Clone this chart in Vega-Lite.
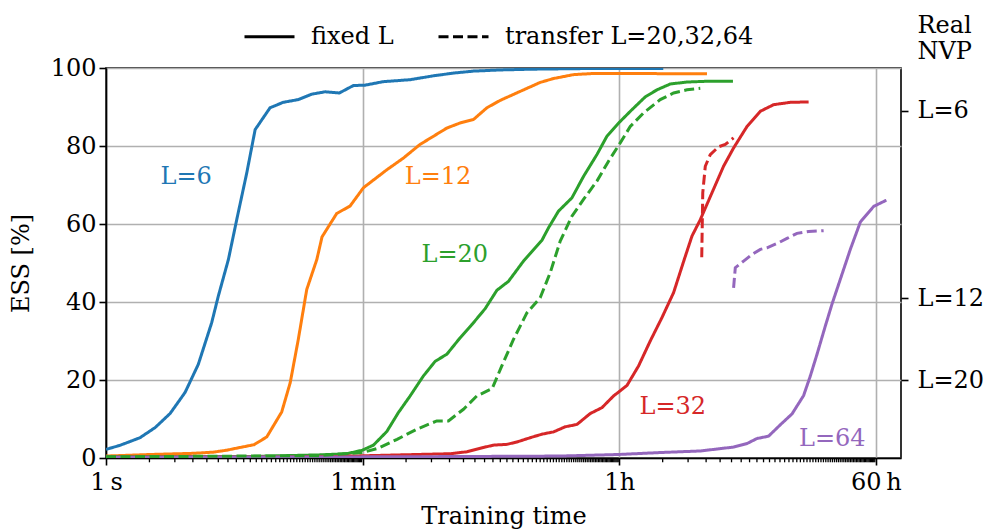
{
  "$schema": "https://vega.github.io/schema/vega-lite/v6.json",
  "width": 795,
  "height": 390,
  "autosize": {"type": "none"},
  "padding": {"left": 106, "top": 68, "right": 83, "bottom": 74},
  "background": "white",
  "datasets": {
    "curves": [
      {"L": "L=6", "kind": "fixed L", "t": 1, "v": 2.2},
      {"L": "L=6", "kind": "fixed L", "t": 1.25, "v": 3.25},
      {"L": "L=6", "kind": "fixed L", "t": 1.72, "v": 5.2},
      {"L": "L=6", "kind": "fixed L", "t": 2.19, "v": 7.8},
      {"L": "L=6", "kind": "fixed L", "t": 2.78, "v": 11.4},
      {"L": "L=6", "kind": "fixed L", "t": 3.53, "v": 16.8},
      {"L": "L=6", "kind": "fixed L", "t": 4.36, "v": 24.0},
      {"L": "L=6", "kind": "fixed L", "t": 5.4, "v": 34.7},
      {"L": "L=6", "kind": "fixed L", "t": 6.0, "v": 41.5},
      {"L": "L=6", "kind": "fixed L", "t": 7.05, "v": 50.9},
      {"L": "L=6", "kind": "fixed L", "t": 8.05, "v": 61.1},
      {"L": "L=6", "kind": "fixed L", "t": 9.45, "v": 73.1},
      {"L": "L=6", "kind": "fixed L", "t": 10.8, "v": 84.2},
      {"L": "L=6", "kind": "fixed L", "t": 13.7, "v": 89.8},
      {"L": "L=6", "kind": "fixed L", "t": 16.9, "v": 91.2},
      {"L": "L=6", "kind": "fixed L", "t": 21.5, "v": 91.9},
      {"L": "L=6", "kind": "fixed L", "t": 26.7, "v": 93.3},
      {"L": "L=6", "kind": "fixed L", "t": 33, "v": 93.9},
      {"L": "L=6", "kind": "fixed L", "t": 41.4, "v": 93.6},
      {"L": "L=6", "kind": "fixed L", "t": 51.8, "v": 95.5},
      {"L": "L=6", "kind": "fixed L", "t": 62.4, "v": 95.6},
      {"L": "L=6", "kind": "fixed L", "t": 83.6, "v": 96.5},
      {"L": "L=6", "kind": "fixed L", "t": 128, "v": 97.0},
      {"L": "L=6", "kind": "fixed L", "t": 186, "v": 98.0},
      {"L": "L=6", "kind": "fixed L", "t": 256, "v": 98.7},
      {"L": "L=6", "kind": "fixed L", "t": 352, "v": 99.2},
      {"L": "L=6", "kind": "fixed L", "t": 539, "v": 99.5},
      {"L": "L=6", "kind": "fixed L", "t": 912, "v": 99.7},
      {"L": "L=6", "kind": "fixed L", "t": 2660, "v": 99.9},
      {"L": "L=6", "kind": "fixed L", "t": 7270, "v": 99.9},

      {"L": "L=12", "kind": "fixed L", "t": 1, "v": 0.5},
      {"L": "L=12", "kind": "fixed L", "t": 2.02, "v": 0.9},
      {"L": "L=12", "kind": "fixed L", "t": 4.03, "v": 1.2},
      {"L": "L=12", "kind": "fixed L", "t": 5.54, "v": 1.5},
      {"L": "L=12", "kind": "fixed L", "t": 6.87, "v": 2.0},
      {"L": "L=12", "kind": "fixed L", "t": 8.49, "v": 2.7},
      {"L": "L=12", "kind": "fixed L", "t": 10.6, "v": 3.4},
      {"L": "L=12", "kind": "fixed L", "t": 13, "v": 5.4},
      {"L": "L=12", "kind": "fixed L", "t": 16.5, "v": 11.8},
      {"L": "L=12", "kind": "fixed L", "t": 18.9, "v": 19.3},
      {"L": "L=12", "kind": "fixed L", "t": 21.5, "v": 30.4},
      {"L": "L=12", "kind": "fixed L", "t": 24.6, "v": 43.2},
      {"L": "L=12", "kind": "fixed L", "t": 28.9, "v": 50.9},
      {"L": "L=12", "kind": "fixed L", "t": 31.4, "v": 56.7},
      {"L": "L=12", "kind": "fixed L", "t": 39.7, "v": 62.7},
      {"L": "L=12", "kind": "fixed L", "t": 49.1, "v": 64.6},
      {"L": "L=12", "kind": "fixed L", "t": 60.8, "v": 69.3},
      {"L": "L=12", "kind": "fixed L", "t": 88.3, "v": 73.9},
      {"L": "L=12", "kind": "fixed L", "t": 115, "v": 76.9},
      {"L": "L=12", "kind": "fixed L", "t": 150, "v": 80.4},
      {"L": "L=12", "kind": "fixed L", "t": 230, "v": 84.6},
      {"L": "L=12", "kind": "fixed L", "t": 284, "v": 85.9},
      {"L": "L=12", "kind": "fixed L", "t": 352, "v": 86.8},
      {"L": "L=12", "kind": "fixed L", "t": 436, "v": 89.8},
      {"L": "L=12", "kind": "fixed L", "t": 539, "v": 91.7},
      {"L": "L=12", "kind": "fixed L", "t": 741, "v": 94.0},
      {"L": "L=12", "kind": "fixed L", "t": 1020, "v": 96.3},
      {"L": "L=12", "kind": "fixed L", "t": 1262, "v": 97.3},
      {"L": "L=12", "kind": "fixed L", "t": 1737, "v": 98.3},
      {"L": "L=12", "kind": "fixed L", "t": 2389, "v": 98.6},
      {"L": "L=12", "kind": "fixed L", "t": 3657, "v": 98.6},
      {"L": "L=12", "kind": "fixed L", "t": 14600, "v": 98.5},

      {"L": "L=20", "kind": "fixed L", "t": 1, "v": 0.3},
      {"L": "L=20", "kind": "fixed L", "t": 10, "v": 0.4},
      {"L": "L=20", "kind": "fixed L", "t": 30, "v": 0.8},
      {"L": "L=20", "kind": "fixed L", "t": 46.6, "v": 1.1},
      {"L": "L=20", "kind": "fixed L", "t": 59.8, "v": 2.0},
      {"L": "L=20", "kind": "fixed L", "t": 71.3, "v": 3.3},
      {"L": "L=20", "kind": "fixed L", "t": 88.3, "v": 6.8},
      {"L": "L=20", "kind": "fixed L", "t": 106, "v": 11.6},
      {"L": "L=20", "kind": "fixed L", "t": 128, "v": 15.9},
      {"L": "L=20", "kind": "fixed L", "t": 158, "v": 21.0},
      {"L": "L=20", "kind": "fixed L", "t": 191, "v": 24.8},
      {"L": "L=20", "kind": "fixed L", "t": 230, "v": 26.6},
      {"L": "L=20", "kind": "fixed L", "t": 284, "v": 30.8},
      {"L": "L=20", "kind": "fixed L", "t": 343, "v": 34.2},
      {"L": "L=20", "kind": "fixed L", "t": 424, "v": 38.3},
      {"L": "L=20", "kind": "fixed L", "t": 511, "v": 43.0},
      {"L": "L=20", "kind": "fixed L", "t": 615, "v": 45.3},
      {"L": "L=20", "kind": "fixed L", "t": 782, "v": 50.5},
      {"L": "L=20", "kind": "fixed L", "t": 1048, "v": 55.8},
      {"L": "L=20", "kind": "fixed L", "t": 1164, "v": 59.0},
      {"L": "L=20", "kind": "fixed L", "t": 1366, "v": 63.3},
      {"L": "L=20", "kind": "fixed L", "t": 1692, "v": 66.7},
      {"L": "L=20", "kind": "fixed L", "t": 2036, "v": 72.2},
      {"L": "L=20", "kind": "fixed L", "t": 2522, "v": 77.8},
      {"L": "L=20", "kind": "fixed L", "t": 2958, "v": 82.5},
      {"L": "L=20", "kind": "fixed L", "t": 3657, "v": 86.3},
      {"L": "L=20", "kind": "fixed L", "t": 4408, "v": 89.3},
      {"L": "L=20", "kind": "fixed L", "t": 5454, "v": 92.6},
      {"L": "L=20", "kind": "fixed L", "t": 6573, "v": 94.4},
      {"L": "L=20", "kind": "fixed L", "t": 8128, "v": 95.9},
      {"L": "L=20", "kind": "fixed L", "t": 10610, "v": 96.4},
      {"L": "L=20", "kind": "fixed L", "t": 14600, "v": 96.6},
      {"L": "L=20", "kind": "fixed L", "t": 22100, "v": 96.6},

      {"L": "L=32", "kind": "fixed L", "t": 1, "v": 0.2},
      {"L": "L=32", "kind": "fixed L", "t": 30, "v": 0.3},
      {"L": "L=32", "kind": "fixed L", "t": 143, "v": 0.9},
      {"L": "L=32", "kind": "fixed L", "t": 243, "v": 1.1},
      {"L": "L=32", "kind": "fixed L", "t": 317, "v": 1.6},
      {"L": "L=32", "kind": "fixed L", "t": 413, "v": 2.7},
      {"L": "L=32", "kind": "fixed L", "t": 484, "v": 3.3},
      {"L": "L=32", "kind": "fixed L", "t": 600, "v": 3.5},
      {"L": "L=32", "kind": "fixed L", "t": 703, "v": 4.1},
      {"L": "L=32", "kind": "fixed L", "t": 869, "v": 5.2},
      {"L": "L=32", "kind": "fixed L", "t": 1048, "v": 6.1},
      {"L": "L=32", "kind": "fixed L", "t": 1262, "v": 6.7},
      {"L": "L=32", "kind": "fixed L", "t": 1521, "v": 8.0},
      {"L": "L=32", "kind": "fixed L", "t": 1833, "v": 8.6},
      {"L": "L=32", "kind": "fixed L", "t": 2266, "v": 11.4},
      {"L": "L=32", "kind": "fixed L", "t": 2731, "v": 12.9},
      {"L": "L=32", "kind": "fixed L", "t": 3288, "v": 15.9},
      {"L": "L=32", "kind": "fixed L", "t": 4073, "v": 18.6},
      {"L": "L=32", "kind": "fixed L", "t": 4900, "v": 23.6},
      {"L": "L=32", "kind": "fixed L", "t": 5905, "v": 30.0},
      {"L": "L=32", "kind": "fixed L", "t": 7117, "v": 36.0},
      {"L": "L=32", "kind": "fixed L", "t": 8570, "v": 42.4},
      {"L": "L=32", "kind": "fixed L", "t": 10160, "v": 50.9},
      {"L": "L=32", "kind": "fixed L", "t": 11490, "v": 56.9},
      {"L": "L=32", "kind": "fixed L", "t": 13120, "v": 61.1},
      {"L": "L=32", "kind": "fixed L", "t": 15810, "v": 68.0},
      {"L": "L=32", "kind": "fixed L", "t": 19020, "v": 74.8},
      {"L": "L=32", "kind": "fixed L", "t": 22320, "v": 79.5},
      {"L": "L=32", "kind": "fixed L", "t": 27650, "v": 85.0},
      {"L": "L=32", "kind": "fixed L", "t": 34200, "v": 88.9},
      {"L": "L=32", "kind": "fixed L", "t": 42300, "v": 90.6},
      {"L": "L=32", "kind": "fixed L", "t": 55200, "v": 91.2},
      {"L": "L=32", "kind": "fixed L", "t": 73900, "v": 91.3},

      {"L": "L=64", "kind": "fixed L", "t": 1, "v": 0.2},
      {"L": "L=64", "kind": "fixed L", "t": 100, "v": 0.3},
      {"L": "L=64", "kind": "fixed L", "t": 1404, "v": 0.5},
      {"L": "L=64", "kind": "fixed L", "t": 3561, "v": 0.9},
      {"L": "L=64", "kind": "fixed L", "t": 6930, "v": 1.4},
      {"L": "L=64", "kind": "fixed L", "t": 13120, "v": 1.8},
      {"L": "L=64", "kind": "fixed L", "t": 19020, "v": 2.5},
      {"L": "L=64", "kind": "fixed L", "t": 22320, "v": 2.8},
      {"L": "L=64", "kind": "fixed L", "t": 27650, "v": 3.7},
      {"L": "L=64", "kind": "fixed L", "t": 32440, "v": 5.0},
      {"L": "L=64", "kind": "fixed L", "t": 39010, "v": 5.6},
      {"L": "L=64", "kind": "fixed L", "t": 47000, "v": 8.5},
      {"L": "L=64", "kind": "fixed L", "t": 56700, "v": 11.3},
      {"L": "L=64", "kind": "fixed L", "t": 68200, "v": 16.0},
      {"L": "L=64", "kind": "fixed L", "t": 75900, "v": 21.0},
      {"L": "L=64", "kind": "fixed L", "t": 84500, "v": 26.6},
      {"L": "L=64", "kind": "fixed L", "t": 96400, "v": 33.8},
      {"L": "L=64", "kind": "fixed L", "t": 107400, "v": 39.5},
      {"L": "L=64", "kind": "fixed L", "t": 122500, "v": 45.8},
      {"L": "L=64", "kind": "fixed L", "t": 143800, "v": 53.5},
      {"L": "L=64", "kind": "fixed L", "t": 168700, "v": 60.5},
      {"L": "L=64", "kind": "fixed L", "t": 208500, "v": 64.5},
      {"L": "L=64", "kind": "fixed L", "t": 255400, "v": 66.1},

      {"L": "L=20", "kind": "transfer L=20,32,64", "t": 1, "v": 0.3},
      {"L": "L=20", "kind": "transfer L=20,32,64", "t": 30, "v": 0.6},
      {"L": "L=20", "kind": "transfer L=20,32,64", "t": 59.8, "v": 1.4},
      {"L": "L=20", "kind": "transfer L=20,32,64", "t": 76.9, "v": 2.5},
      {"L": "L=20", "kind": "transfer L=20,32,64", "t": 104, "v": 4.8},
      {"L": "L=20", "kind": "transfer L=20,32,64", "t": 143, "v": 7.4},
      {"L": "L=20", "kind": "transfer L=20,32,64", "t": 196, "v": 9.5},
      {"L": "L=20", "kind": "transfer L=20,32,64", "t": 236, "v": 9.5},
      {"L": "L=20", "kind": "transfer L=20,32,64", "t": 300, "v": 12.5},
      {"L": "L=20", "kind": "transfer L=20,32,64", "t": 371, "v": 15.9},
      {"L": "L=20", "kind": "transfer L=20,32,64", "t": 474, "v": 17.8},
      {"L": "L=20", "kind": "transfer L=20,32,64", "t": 553, "v": 23.6},
      {"L": "L=20", "kind": "transfer L=20,32,64", "t": 666, "v": 30.4},
      {"L": "L=20", "kind": "transfer L=20,32,64", "t": 825, "v": 37.2},
      {"L": "L=20", "kind": "transfer L=20,32,64", "t": 1020, "v": 41.1},
      {"L": "L=20", "kind": "transfer L=20,32,64", "t": 1197, "v": 47.5},
      {"L": "L=20", "kind": "transfer L=20,32,64", "t": 1404, "v": 55.6},
      {"L": "L=20", "kind": "transfer L=20,32,64", "t": 1692, "v": 62.0},
      {"L": "L=20", "kind": "transfer L=20,32,64", "t": 2036, "v": 66.3},
      {"L": "L=20", "kind": "transfer L=20,32,64", "t": 2522, "v": 71.0},
      {"L": "L=20", "kind": "transfer L=20,32,64", "t": 3035, "v": 76.1},
      {"L": "L=20", "kind": "transfer L=20,32,64", "t": 3657, "v": 80.8},
      {"L": "L=20", "kind": "transfer L=20,32,64", "t": 4293, "v": 85.0},
      {"L": "L=20", "kind": "transfer L=20,32,64", "t": 5309, "v": 88.5},
      {"L": "L=20", "kind": "transfer L=20,32,64", "t": 6930, "v": 91.9},
      {"L": "L=20", "kind": "transfer L=20,32,64", "t": 8570, "v": 93.6},
      {"L": "L=20", "kind": "transfer L=20,32,64", "t": 10610, "v": 94.4},
      {"L": "L=20", "kind": "transfer L=20,32,64", "t": 13120, "v": 94.8},

      {"L": "L=32", "kind": "transfer L=20,32,64", "t": 13430, "v": 51.5},
      {"L": "L=32", "kind": "transfer L=20,32,64", "t": 13650, "v": 68.0},
      {"L": "L=32", "kind": "transfer L=20,32,64", "t": 14210, "v": 74.8},
      {"L": "L=32", "kind": "transfer L=20,32,64", "t": 15390, "v": 77.8},
      {"L": "L=32", "kind": "transfer L=20,32,64", "t": 17570, "v": 79.8},
      {"L": "L=32", "kind": "transfer L=20,32,64", "t": 19550, "v": 80.4},
      {"L": "L=32", "kind": "transfer L=20,32,64", "t": 22320, "v": 82.1},

      {"L": "L=64", "kind": "transfer L=20,32,64", "t": 22320, "v": 43.6},
      {"L": "L=64", "kind": "transfer L=20,32,64", "t": 22940, "v": 48.8},
      {"L": "L=64", "kind": "transfer L=20,32,64", "t": 26190, "v": 50.5},
      {"L": "L=64", "kind": "transfer L=20,32,64", "t": 29940, "v": 52.2},
      {"L": "L=64", "kind": "transfer L=20,32,64", "t": 34200, "v": 53.5},
      {"L": "L=64", "kind": "transfer L=20,32,64", "t": 38040, "v": 53.9},
      {"L": "L=64", "kind": "transfer L=20,32,64", "t": 45780, "v": 55.2},
      {"L": "L=64", "kind": "transfer L=20,32,64", "t": 52340, "v": 56.3},
      {"L": "L=64", "kind": "transfer L=20,32,64", "t": 61380, "v": 57.6},
      {"L": "L=64", "kind": "transfer L=20,32,64", "t": 73900, "v": 58.1},
      {"L": "L=64", "kind": "transfer L=20,32,64", "t": 93900, "v": 58.3}
    ],
    "labels": [
      {"L": "L=6", "t": 3.59, "v": 72.0},
      {"L": "L=12", "t": 200, "v": 72.1},
      {"L": "L=20", "t": 261, "v": 52.0},
      {"L": "L=32", "t": 8460, "v": 13.1},
      {"L": "L=64", "t": 107900, "v": 5.0}
    ],
    "minor": [
      {"t": 2}, {"t": 3}, {"t": 4}, {"t": 5}, {"t": 6}, {"t": 7}, {"t": 8}, {"t": 9}, {"t": 10}, {"t": 11}, {"t": 12}, {"t": 13}, {"t": 14}, {"t": 15}, {"t": 16}, {"t": 17}, {"t": 18}, {"t": 19}, {"t": 20}, {"t": 21}, {"t": 22}, {"t": 23}, {"t": 24}, {"t": 25}, {"t": 26}, {"t": 27}, {"t": 28}, {"t": 29}, {"t": 30}, {"t": 31}, {"t": 32}, {"t": 33}, {"t": 34}, {"t": 35}, {"t": 36}, {"t": 37}, {"t": 38}, {"t": 39}, {"t": 40}, {"t": 41}, {"t": 42}, {"t": 43}, {"t": 44}, {"t": 45}, {"t": 46}, {"t": 47}, {"t": 48}, {"t": 49}, {"t": 50}, {"t": 51}, {"t": 52}, {"t": 53}, {"t": 54}, {"t": 55}, {"t": 56}, {"t": 57}, {"t": 58}, {"t": 59},
      {"t": 120}, {"t": 180}, {"t": 240}, {"t": 300}, {"t": 360}, {"t": 420}, {"t": 480}, {"t": 540}, {"t": 600}, {"t": 660}, {"t": 720}, {"t": 780}, {"t": 840}, {"t": 900}, {"t": 960}, {"t": 1020}, {"t": 1080}, {"t": 1140}, {"t": 1200}, {"t": 1260}, {"t": 1320}, {"t": 1380}, {"t": 1440}, {"t": 1500}, {"t": 1560}, {"t": 1620}, {"t": 1680}, {"t": 1740}, {"t": 1800}, {"t": 1860}, {"t": 1920}, {"t": 1980}, {"t": 2040}, {"t": 2100}, {"t": 2160}, {"t": 2220}, {"t": 2280}, {"t": 2340}, {"t": 2400}, {"t": 2460}, {"t": 2520}, {"t": 2580}, {"t": 2640}, {"t": 2700}, {"t": 2760}, {"t": 2820}, {"t": 2880}, {"t": 2940}, {"t": 3000}, {"t": 3060}, {"t": 3120}, {"t": 3180}, {"t": 3240}, {"t": 3300}, {"t": 3360}, {"t": 3420}, {"t": 3480}, {"t": 3540},
      {"t": 7200}, {"t": 10800}, {"t": 14400}, {"t": 18000}, {"t": 21600}, {"t": 25200}, {"t": 28800}, {"t": 32400}, {"t": 36000}, {"t": 39600}, {"t": 43200}, {"t": 46800}, {"t": 50400}, {"t": 54000}, {"t": 57600}, {"t": 61200}, {"t": 64800}, {"t": 68400}, {"t": 72000}, {"t": 75600}, {"t": 79200}, {"t": 82800}, {"t": 86400}, {"t": 90000}, {"t": 93600}, {"t": 97200}, {"t": 100800}, {"t": 104400}, {"t": 108000}, {"t": 111600}, {"t": 115200}, {"t": 118800}, {"t": 122400}, {"t": 126000}, {"t": 129600}, {"t": 133200}, {"t": 136800}, {"t": 140400}, {"t": 144000}, {"t": 147600}, {"t": 151200}, {"t": 154800}, {"t": 158400}, {"t": 162000}, {"t": 165600}, {"t": 169200}, {"t": 172800}, {"t": 176400}, {"t": 180000}, {"t": 183600}, {"t": 187200}, {"t": 190800}, {"t": 194400}, {"t": 198000}, {"t": 201600}, {"t": 205200}, {"t": 208800}, {"t": 212400}
    ]
  },
  "layer": [
    {
      "data": {"name": "curves"},
      "mark": {"type": "line", "strokeWidth": 3, "clip": true},
      "encoding": {
        "x": {
          "field": "t", "type": "quantitative",
          "scale": {"type": "log", "domain": [1, 322700], "nice": false},
          "title": "Training time",
          "axis": {
            "orient": "bottom",
            "values": [1, 60, 3600, 216000],
            "labelExpr": "datum.value == 1 ? '1\u2009s' : datum.value == 60 ? '1\u2009min' : datum.value == 3600 ? '1h' : '60\u2009h'",
            "labelOverlap": false,
            "labelBound": false,
            "labelFlush": false,
            "labelPadding": 5,
            "titlePadding": 10,
            "tickSize": 7,
            "grid": true
          }
        },
        "y": {
          "field": "v", "type": "quantitative",
          "scale": {"domain": [0, 100], "nice": false},
          "title": "ESS [%]",
          "axis": {"orient": "left", "values": [0, 20, 40, 60, 80, 100], "tickSize": 7, "labelPadding": 3, "titlePadding": 17, "grid": true}
        },
        "color": {
          "field": "L", "type": "nominal",
          "scale": {"domain": ["L=6", "L=12", "L=20", "L=32", "L=64"], "range": ["#1f77b4", "#ff7f0e", "#2ca02c", "#d62728", "#9467bd"]},
          "legend": null
        },
        "strokeDash": {
          "field": "kind", "type": "nominal",
          "scale": {"domain": ["fixed L", "transfer L=20,32,64"], "range": [[1, 0], [10, 4.5]]},
          "legend": {
            "title": null,
            "orient": "none",
            "legendX": 137,
            "legendY": -58,
            "direction": "horizontal",
            "symbolType": "stroke",
            "symbolSize": 2500,
            "symbolStrokeWidth": 3,
            "symbolStrokeColor": "black",
            "labelFontSize": 24,
            "labelColor": "black",
            "labelLimit": 500,
            "labelOffset": 15,
            "columnPadding": 38,
            "padding": 0
          }
        }
      }
    },
    {
      "data": {"name": "labels"},
      "mark": {"type": "text", "fontSize": 24, "align": "center", "baseline": "middle"},
      "encoding": {
        "x": {"field": "t", "type": "quantitative"},
        "y": {
          "field": "v", "type": "quantitative",
          "title": ["Real", "NVP"],
          "axis": {
            "orient": "right",
            "values": [89.1, 41, 20],
            "labelExpr": "datum.value > 80 ? 'L=6' : datum.value > 30 ? 'L=12' : 'L=20'",
            "grid": false,
            "domain": false,
            "tickSize": 7,
            "labelPadding": 9,
            "titleAngle": 0,
            "titleAlign": "left",
            "titleBaseline": "top",
            "titleX": 16,
            "titleY": -55,
            "titleLineHeight": 26
          }
        },
        "text": {"field": "L"},
        "color": {"field": "L", "type": "nominal", "legend": null}
      }
    },
    {
      "data": {"name": "minor"},
      "mark": {"type": "rule", "clip": false, "strokeWidth": 1.3, "color": "black"},
      "encoding": {
        "x": {"field": "t", "type": "quantitative"},
        "y": {"datum": 0, "type": "quantitative", "axis": null},
        "y2": {"datum": -1.1}
      }
    }
  ],
  "resolve": {"axis": {"y": "independent"}},
  "config": {
    "font": "DejaVu Serif",
    "view": {"stroke": "black", "strokeWidth": 1.6},
    "axis": {
      "labelFont": "DejaVu Serif",
      "titleFont": "DejaVu Serif",
      "labelFontSize": 24,
      "titleFontSize": 24,
      "titleFontWeight": "normal",
      "labelColor": "black",
      "titleColor": "black",
      "domainColor": "black",
      "domainWidth": 1.6,
      "tickColor": "black",
      "tickWidth": 1.6,
      "gridColor": "#b0b0b0",
      "gridWidth": 1.6
    },
    "legend": {"labelFont": "DejaVu Serif"}
  }
}
